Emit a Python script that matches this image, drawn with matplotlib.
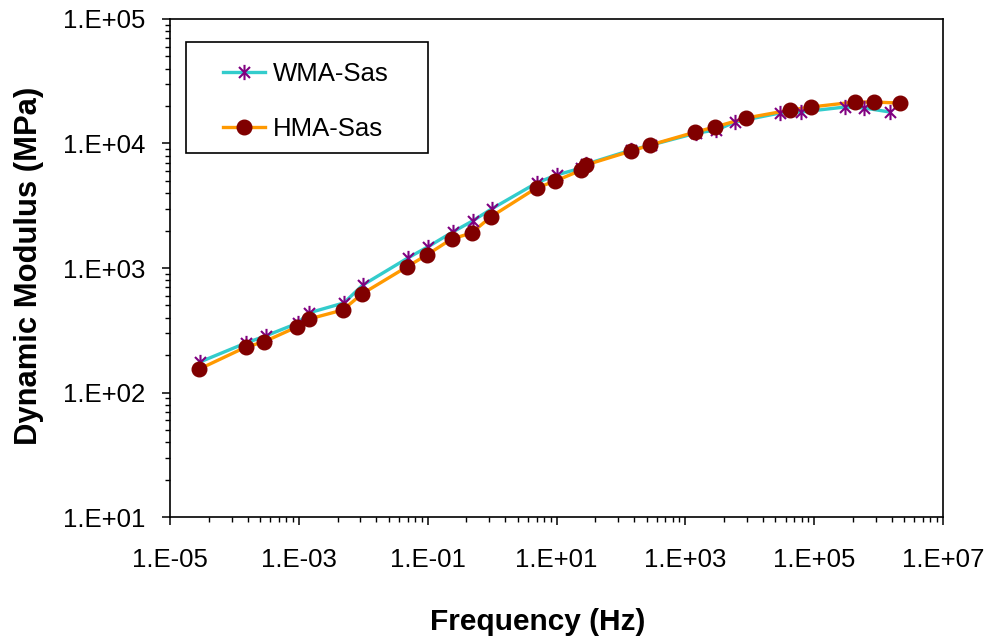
import matplotlib
matplotlib.use('Agg')
import matplotlib.pyplot as plt
import numpy as np
from matplotlib.path import Path
from matplotlib.ticker import FixedLocator, FuncFormatter, LogLocator, NullFormatter
from matplotlib.lines import Line2D
from matplotlib.patches import Rectangle

plt.rcParams['font.family'] = ['Liberation Sans', 'DejaVu Sans']

# ---- data ----
wma_freq = [2.92e-5, 1.51e-4, 3.07e-4, 9.6e-4, 1.43e-3, 4.99e-3, 9.8e-3, 0.049, 0.100,
            0.244, 0.499, 0.98, 4.9, 10.0, 24.4, 29.2, 146, 297, 1482, 3030, 5960,
            29700, 62800, 303000, 596000, 1.51e6]
wma_mod = [176, 250, 285, 361, 436, 524, 729, 1202, 1476, 1945, 2390, 2980, 4820,
           5590, 6350, 6840, 8880, 9730, 12130, 12820, 14900, 17590, 17900, 19640,
           19280, 17900]
hma_freq = [2.82e-5, 1.51e-4, 2.86e-4, 9.3e-4, 1.43e-3, 4.81e-3, 9.5e-3, 0.0472, 0.0964,
            0.235, 0.481, 0.948, 4.90, 9.64, 24.4, 28.2, 145.6, 287, 1429, 2918, 8830,
            42500, 89800, 432600, 851000, 2.15e6]
hma_mod = [154, 232, 255, 336, 389, 460, 618, 1019, 1271, 1710, 1910, 2570, 4400,
           5000, 6120, 6710, 8710, 9730, 12360, 13590, 16030, 18580, 19640, 21540,
           21540, 21120]
series_labels = ['WMA-Sas', 'HMA-Sas']
x_label = 'Frequency (Hz)'
y_label = 'Dynamic Modulus (MPa)'

# ---- styles ----
cyan = '#33CCCC'
orange = '#FF9900'
purple = '#800080'
darkred = '#800000'
star = Path([(0, -1), (0, 1), (-0.72, -0.72), (0.72, 0.72), (-0.72, 0.72), (0.72, -0.72)],
            [Path.MOVETO, Path.LINETO, Path.MOVETO, Path.LINETO, Path.MOVETO, Path.LINETO])

fig = plt.figure(figsize=(9.95, 6.44), dpi=100)
ax = fig.add_axes([0.1709, 0.1972, 0.7768, 0.7733])

ax.plot(wma_freq, wma_mod, color=cyan, lw=2.4, zorder=2)
ax.plot(hma_freq, hma_mod, color=orange, lw=2.4, zorder=2.1)
ax.plot(wma_freq, wma_mod, ls='none', marker=star, ms=11, mec=purple, mew=1.5, zorder=3)
ax.plot(hma_freq, hma_mod, ls='none', marker='o', ms=10.5, mfc=darkred, mec=darkred, zorder=4)

ax.set_xscale('log')
ax.set_yscale('log')
ax.set_xlim(1e-5, 1e7)
ax.set_ylim(1e1, 1e5)

xmaj = [10.0 ** e for e in range(-5, 8, 2)]
xmin = [10.0 ** e * k * k for e in range(-5, 7, 2) for k in range(2, 10)]
ax.xaxis.set_major_locator(FixedLocator(xmaj))
ax.xaxis.set_minor_locator(FixedLocator(xmin))
ax.yaxis.set_major_locator(FixedLocator([10.0 ** e for e in range(1, 6)]))
ax.yaxis.set_minor_locator(LogLocator(base=10, subs=np.arange(2, 10)))
ax.xaxis.set_minor_formatter(NullFormatter())
ax.yaxis.set_minor_formatter(NullFormatter())

fmt = FuncFormatter(lambda v, p: "1.E%+03d" % int(round(np.log10(v))))
ax.xaxis.set_major_formatter(fmt)
ax.yaxis.set_major_formatter(fmt)

ax.tick_params(which='major', direction='out', length=5.5, width=1.1, labelsize=18.5, colors='black')
ax.tick_params(which='minor', direction='out', length=3.5, width=1.0)
ax.tick_params(axis='x', which='major', pad=17)
ax.tick_params(axis='y', which='major', pad=12)
for s in ax.spines.values():
    s.set_linewidth(1.2)
    s.set_color('black')

# legend
handles = [Line2D([], [], color=cyan, lw=2.4, marker=star, ms=11, mec=purple, mew=1.5),
           Line2D([], [], color=orange, lw=2.4, marker='o', ms=10.5, mfc=darkred, mec=darkred)]
ax.legend(handles, series_labels, loc='upper left', bbox_to_anchor=(0.0686, 0.913),
          frameon=False, borderpad=0, borderaxespad=0, handlelength=1.65,
          handletextpad=0.3, labelspacing=1.2, fontsize=18.5)
ax.add_patch(Rectangle((0.0207, 0.7309), 0.3131, 0.2229, transform=ax.transAxes,
                       fill=False, ec='black', lw=1.2, zorder=5))

fig.text(538 / 995, 1 - 622 / 644, x_label, ha='center', va='center',
         fontsize=21.5, fontweight='bold')
fig.text(29 / 995, 1 - 266 / 644, y_label, ha='center', va='center', rotation=90,
         fontsize=22.3, fontweight='bold')

fig.savefig('out.png', dpi=100, facecolor='white')
